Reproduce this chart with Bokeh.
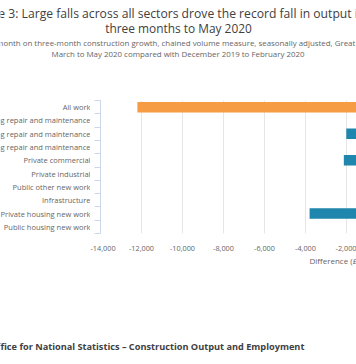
from bokeh.plotting import figure
from bokeh.models import ColumnDataSource, Range1d, FixedTicker, NumeralTickFormatter
from bokeh.core.properties import value
from bokeh.layouts import column, row
from bokeh.embed import file_html
from bokeh.resources import INLINE

# ---- data ----
categories = ["All work",
              "Non-housing repair and maintenance",
              "Private housing repair and maintenance",
              "Public housing repair and maintenance",
              "Private commercial",
              "Private industrial",
              "Public other new work",
              "Infrastructure",
              "Private housing new work",
              "Public housing new work"]
values = [-12200, -1150, -2010, -480, -2130, -420, -880, -1300, -3800, -620]
x_ticks = [-14000, -12000, -10000, -8000, -6000, -4000, -2000, 0]

title_lines = ["Figure 3: Large falls across all sectors drove the record fall in output in the",
               "three months to May 2020"]
subtitle_lines = ["Three-month on three-month construction growth, chained volume measure, seasonally adjusted, Great Britain,",
                  "March to May 2020 compared with December 2019 to February 2020"]
axis_title = "Difference (\u00a3 million)"
source_text = "Source: Office for National Statistics \u2013 Construction Output and Employment"

BLUE = "#1f86ae"
ORANGE = "#f59c45"
FONT = value("Open Sans")

W, H = 356, 364
TOP_H = 100          # header strip
LABEL_W = 90         # category label strip
FRAME_H = 133
AXIS_H = 20
BOT_H = H - TOP_H - FRAME_H - AXIS_H

n = len(categories)
pos = [n - 1 - i for i in range(n)]
colors = [ORANGE if c == "All work" else BLUE for c in categories]
src = ColumnDataSource(dict(cat=categories, val=values, pos=pos, col=colors,
                            zero=[0] * n))
y_range = Range1d(-0.5, n - 0.5)


def blank(width, height, x_range, y_range, bottom=0):
    f = figure(width=width, height=height, output_backend="svg", toolbar_location=None,
               x_range=x_range, y_range=y_range, x_axis_type=None, y_axis_type=None,
               min_border_left=0, min_border_right=0, min_border_top=0,
               min_border_bottom=bottom)
    f.outline_line_color = None
    f.grid.visible = False
    return f


# ---- header (title + subtitle) ----
top = blank(W, TOP_H, Range1d(0, W), Range1d(TOP_H, 0))
top.text(x=[178], y=[13], text=[title_lines[0]], text_align="center",
         text_baseline="middle", text_font=FONT, text_font_size=value("12.15px"),
         text_color="#414042")
top.text(x=[178], y=[27.5], text=[title_lines[1]], text_align="center",
         text_baseline="middle", text_font=FONT, text_font_size=value("11.9px"),
         text_color="#414042")
top.text(x=[177.5, 177.5], y=[42.5, 53.5], text=subtitle_lines, text_align="center",
         text_baseline="middle", text_font=FONT, text_font_size=value("7.9px"),
         text_color="#666666")

# ---- category labels ----
lab = blank(LABEL_W, FRAME_H + AXIS_H, Range1d(0, LABEL_W), y_range, bottom=AXIS_H)
lab.text(x=[LABEL_W] * n, y=pos, text=categories, text_align="right",
         text_baseline="middle", text_font=FONT, text_font_size=value("7.5px"),
         text_color="#666666")

# ---- main bar chart ----
p = figure(width=W - LABEL_W, height=FRAME_H + AXIS_H, output_backend="svg",
           toolbar_location=None, x_range=Range1d(-14000, -1512), y_range=y_range,
           min_border_left=10, min_border_right=0, min_border_top=0,
           min_border_bottom=AXIS_H)
p.outline_line_color = None
p.hbar(y="pos", left="val", right="zero", height=0.79, fill_color="col",
       line_color=None, source=src)

p.xaxis.ticker = FixedTicker(ticks=x_ticks)
p.xaxis.formatter = NumeralTickFormatter(format="0,0")
p.xaxis.axis_line_color = None
p.xaxis.major_tick_line_color = None
p.xaxis.minor_tick_line_color = None
p.xaxis.major_label_standoff = 6
p.xaxis.major_label_text_font = "Open Sans"
p.xaxis.major_label_text_font_size = "7.3px"
p.xaxis.major_label_text_color = "#666666"
p.xgrid.ticker = FixedTicker(ticks=x_ticks)
p.xgrid.grid_line_color = "#e6e6e6"
p.ygrid.grid_line_color = None

p.yaxis.ticker = FixedTicker(ticks=[k - 0.5 for k in range(n + 1)])
p.yaxis.axis_line_color = "#ccd6eb"
p.yaxis.major_tick_line_color = "#ccd6eb"
p.yaxis.major_tick_in = 0
p.yaxis.major_tick_out = 6
p.yaxis.minor_tick_line_color = None
p.yaxis.major_label_standoff = 0
p.yaxis.major_label_overrides = {k - 0.5: "" for k in range(n + 1)}

# ---- footer (axis title + source) ----
y0 = TOP_H + FRAME_H + AXIS_H
bot = blank(W, BOT_H, Range1d(0, W), Range1d(H, y0))
bot.text(x=[309], y=[259.5], text=[axis_title], text_align="left", text_baseline="middle",
         text_font=FONT, text_font_size=value("8px"), text_color="#666666")
bot.text(x=[-47], y=[346], text=[source_text], text_align="left", text_baseline="middle",
         text_font=FONT, text_font_size=value("9.2px"), text_font_style="bold",
         text_color="#414042")

layout = column(top, row(lab, p), bot)
open("out.html", "w").write(file_html(layout, INLINE))
